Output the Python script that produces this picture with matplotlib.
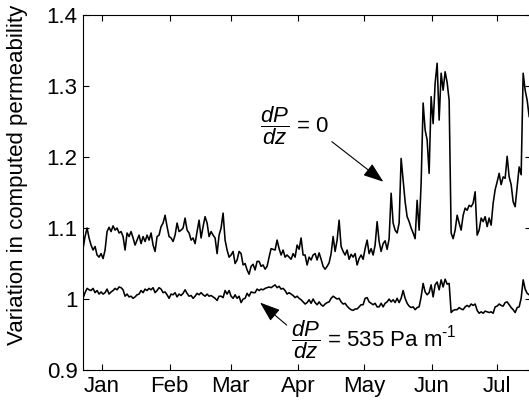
import matplotlib
matplotlib.use('Agg')
import matplotlib.pyplot as plt
import numpy as np

plt.rcParams['font.family'] = ['Liberation Sans', 'DejaVu Sans']
plt.rcParams['mathtext.fontset'] = 'custom'
plt.rcParams['mathtext.rm'] = 'Liberation Sans'
plt.rcParams['mathtext.it'] = 'Liberation Sans:italic'

# 読み取った値（等間隔サンプリング、約0.92日間隔）
day_start = -8.7
day_step = 0.9166

# dP/dz = 0 の系列
upper_jan = [1.071, 1.088, 1.100, 1.086, 1.076, 1.069, 1.074, 1.062, 1.059, 1.064,
             1.057, 1.069, 1.095, 1.101, 1.095, 1.103, 1.097, 1.100, 1.093, 1.095,
             1.088, 1.069, 1.093, 1.088, 1.095, 1.086, 1.076, 1.083, 1.090, 1.078,
             1.088, 1.081, 1.090, 1.083, 1.093, 1.076, 1.067, 1.088]
upper_feb = [1.090, 1.102, 1.107, 1.118, 1.102, 1.088, 1.086, 1.081, 1.090, 1.107,
             1.095, 1.097, 1.100, 1.114, 1.097, 1.093, 1.083, 1.086, 1.078, 1.095,
             1.111, 1.086, 1.102, 1.116, 1.107, 1.088, 1.095, 1.090, 1.086, 1.064,
             1.090, 1.100, 1.121, 1.083, 1.069, 1.059]
upper_mar = [1.062, 1.067, 1.050, 1.055, 1.067, 1.064, 1.048, 1.050, 1.041, 1.035,
             1.046, 1.049, 1.041, 1.053, 1.053, 1.046, 1.048, 1.042, 1.046, 1.059,
             1.071, 1.070, 1.069, 1.083, 1.071, 1.062, 1.069, 1.059, 1.062, 1.059,
             1.056, 1.064, 1.059, 1.076, 1.070, 1.086]
upper_apr = [1.062, 1.062, 1.048, 1.059, 1.055, 1.062, 1.064, 1.055, 1.065, 1.056,
             1.046, 1.042, 1.046, 1.051, 1.064, 1.088, 1.067, 1.083, 1.111, 1.074,
             1.067, 1.062, 1.069, 1.056, 1.063, 1.059, 1.064, 1.048, 1.057, 1.062,
             1.056, 1.071, 1.083, 1.064, 1.071, 1.062]
upper_may = [1.076, 1.109, 1.081, 1.067, 1.078, 1.082, 1.070, 1.085, 1.149, 1.107,
             1.097, 1.093, 1.107, 1.198, 1.168, 1.137, 1.116, 1.109, 1.100, 1.093,
             1.085, 1.139, 1.097, 1.163, 1.276, 1.238, 1.224, 1.177, 1.285, 1.247,
             1.304, 1.332, 1.252, 1.318, 1.294, 1.320, 1.305, 1.280]
upper_jun = [1.093, 1.085, 1.097, 1.118, 1.107, 1.097, 1.118, 1.128, 1.125, 1.132,
             1.130, 1.135, 1.151, 1.090, 1.097, 1.114, 1.109, 1.116, 1.102, 1.114,
             1.104, 1.135, 1.154, 1.165, 1.177, 1.161, 1.172, 1.170, 1.201, 1.172,
             1.161, 1.137, 1.130, 1.158, 1.186, 1.175, 1.318, 1.294, 1.280, 1.257]

# dP/dz = 535 Pa/m の系列
lower_jan = [1.001, 1.009, 1.015, 1.013, 1.012, 1.015, 1.009, 1.012, 1.007, 1.010,
             1.007, 1.009, 1.014, 1.007, 1.010, 1.012, 1.015, 1.013, 1.017, 1.016,
             1.013, 1.004, 1.007, 1.003, 1.004, 1.001, 1.003, 1.006, 1.007, 1.012,
             1.009, 1.014, 1.012, 1.015, 1.013, 1.016, 1.009, 1.012]
lower_feb = [1.016, 1.014, 1.009, 1.010, 1.006, 1.001, 1.007, 1.006, 1.009, 1.003,
             1.007, 1.005, 1.008, 1.013, 1.008, 1.004, 1.005, 1.001, 1.004, 1.008,
             1.006, 1.009, 1.006, 1.004, 1.007, 1.004, 1.005, 1.003, 1.001, 0.998,
             1.004, 1.004, 1.002, 1.012, 1.007, 1.012]
lower_mar = [1.004, 1.001, 1.006, 1.001, 1.004, 0.995, 1.000, 1.001, 1.008, 1.004,
             1.010, 1.009, 1.009, 1.014, 1.012, 1.014, 1.013, 1.015, 1.016, 1.017,
             1.016, 1.018, 1.020, 1.016, 1.018, 1.014, 1.015, 1.012, 1.007, 1.009,
             1.007, 1.005, 1.002, 1.004, 1.001, 0.999]
lower_apr = [0.996, 0.993, 0.995, 0.999, 0.994, 1.000, 0.995, 0.992, 0.996, 0.992,
             0.990, 0.993, 0.995, 0.996, 1.001, 1.004, 1.002, 1.000, 1.001, 0.996,
             0.993, 0.994, 0.990, 0.987, 0.985, 0.984, 0.986, 0.986, 0.989, 0.992,
             0.992, 1.001, 1.002, 0.996, 0.994, 0.992]
lower_may = [0.994, 0.989, 0.989, 0.994, 0.989, 0.994, 0.996, 1.000, 0.996, 0.999,
             0.995, 1.001, 0.995, 1.001, 1.012, 1.001, 0.994, 0.990, 0.988, 0.989,
             0.985, 0.988, 0.989, 1.003, 1.022, 1.010, 1.006, 1.009, 1.020, 1.003,
             1.020, 1.024, 1.013, 1.027, 1.017, 1.028, 1.021, 1.022]
lower_jun = [0.981, 0.984, 0.985, 0.985, 0.988, 0.986, 0.985, 0.989, 0.991, 0.989,
             0.993, 0.991, 0.993, 0.984, 0.980, 0.982, 0.980, 0.983, 0.982, 0.981,
             0.982, 0.980, 0.989, 0.990, 0.993, 0.991, 0.990, 0.995, 0.996, 0.992,
             0.988, 0.985, 0.981, 0.988, 0.989, 1.001, 1.027, 1.014, 1.008, 1.006]

month_days = [0, 31, 59, 90, 120, 151, 181]
month_labels = ['Jan', 'Feb', 'Mar', 'Apr', 'May', 'Jun', 'Jul']
y_ticks = [0.9, 1.0, 1.1, 1.2, 1.3, 1.4]
y_labels = ['0.9', '1', '1.1', '1.2', '1.3', '1.4']

upper = np.array(upper_jan + upper_feb + upper_mar + upper_apr + upper_may + upper_jun)
lower = np.array(lower_jan + lower_feb + lower_mar + lower_apr + lower_may + lower_jun)
days = day_start + day_step * np.arange(len(upper))

fig = plt.figure(figsize=(5.29, 4.04), dpi=100)
ax = fig.add_axes([0.157, 0.084, 0.847, 0.879])

ax.plot(days, upper, color='k', lw=1.15)
ax.plot(days, lower, color='k', lw=1.15)

ax.set_xlim(-8.7, 196.6)
ax.set_ylim(0.9, 1.4)
ax.set_xticks(month_days)
ax.set_xticklabels(month_labels)
ax.set_yticks(y_ticks)
ax.set_yticklabels(y_labels)
ax.tick_params(direction='in', length=4, width=0.8, labelsize=16,
               top=True, right=True, pad=4)
for s in ax.spines.values():
    s.set_linewidth(0.8)
ax.set_ylabel('Variation in computed permeability', fontsize=16)
ax.yaxis.set_label_coords(-0.123, 0.55)

# 注釈
arrow = dict(arrowstyle='-|>,head_length=1.25,head_width=0.45', color='k',
             lw=0.8, shrinkA=0, shrinkB=0)
ax.text(72.2, 1.2437, r'$\dfrac{dP}{dz}$ = 0', fontsize=16, va='center', ha='left')
ax.annotate('', xy=(128.9, 1.1652), xytext=(105.3, 1.2216), arrowprops=arrow)
ax.text(86.6, 0.9423, r'$\dfrac{dP}{dz}$ = 535 Pa m$^{\text{-1}}$',
        fontsize=16, va='center', ha='left')
ax.annotate('', xy=(72.4, 0.995), xytext=(84.6, 0.9634), arrowprops=arrow)

fig.savefig('out.png', dpi=100)
